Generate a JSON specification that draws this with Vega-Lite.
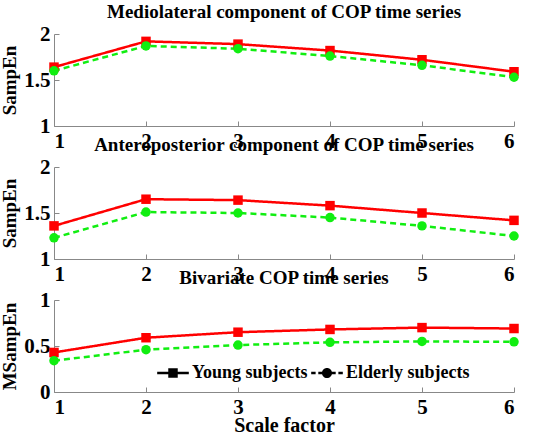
{
  "$schema": "https://vega.github.io/schema/vega-lite/v6.json",
  "background": "white",
  "padding": {"left": 0, "top": 3, "right": 10, "bottom": 0},
  "spacing": -15,
  "config": {
    "view": {"stroke": null},
    "font": "Liberation Serif",
    "axis": {
      "grid": false,
      "domainColor": "#888888",
      "tickColor": "#888888",
      "tickSize": -5,
      "labelPadding": 9,
      "labelFont": "Liberation Serif",
      "labelFontWeight": "bold",
      "labelFontSize": 21,
      "labelColor": "black",
      "titleFont": "Liberation Serif",
      "titleFontWeight": "bold",
      "titleFontSize": 19,
      "titleColor": "black"
    },
    "legend": {
      "title": null, "orient": "none", "legendX": 103, "legendY": 57, "direction": "horizontal", "columns": 2, "columnPadding": 3,
      "symbolSize": 1000, "symbolStrokeWidth": 0, "symbolOpacity": 1,
      "labelFont": "Liberation Serif", "labelFontWeight": "bold", "labelFontSize": 18, "labelColor": "black", "labelOffset": 3, "labelLimit": 300
    },
    "title": {"font": "Liberation Serif", "fontWeight": "bold", "fontSize": 19, "color": "black", "offset": 1}
  },
  "datasets": {
    "cop": [
      {"panel": "ML", "scale": 1, "group": "Young subjects", "value": 1.64},
      {"panel": "ML", "scale": 2, "group": "Young subjects", "value": 1.92},
      {"panel": "ML", "scale": 3, "group": "Young subjects", "value": 1.89},
      {"panel": "ML", "scale": 4, "group": "Young subjects", "value": 1.82},
      {"panel": "ML", "scale": 5, "group": "Young subjects", "value": 1.72},
      {"panel": "ML", "scale": 6, "group": "Young subjects", "value": 1.59},
      {"panel": "ML", "scale": 1, "group": "Elderly subjects", "value": 1.60},
      {"panel": "ML", "scale": 2, "group": "Elderly subjects", "value": 1.87},
      {"panel": "ML", "scale": 3, "group": "Elderly subjects", "value": 1.84},
      {"panel": "ML", "scale": 4, "group": "Elderly subjects", "value": 1.76},
      {"panel": "ML", "scale": 5, "group": "Elderly subjects", "value": 1.66},
      {"panel": "ML", "scale": 6, "group": "Elderly subjects", "value": 1.53},
      {"panel": "AP", "scale": 1, "group": "Young subjects", "value": 1.36},
      {"panel": "AP", "scale": 2, "group": "Young subjects", "value": 1.65},
      {"panel": "AP", "scale": 3, "group": "Young subjects", "value": 1.64},
      {"panel": "AP", "scale": 4, "group": "Young subjects", "value": 1.58},
      {"panel": "AP", "scale": 5, "group": "Young subjects", "value": 1.50},
      {"panel": "AP", "scale": 6, "group": "Young subjects", "value": 1.42},
      {"panel": "AP", "scale": 1, "group": "Elderly subjects", "value": 1.23},
      {"panel": "AP", "scale": 2, "group": "Elderly subjects", "value": 1.51},
      {"panel": "AP", "scale": 3, "group": "Elderly subjects", "value": 1.50},
      {"panel": "AP", "scale": 4, "group": "Elderly subjects", "value": 1.45},
      {"panel": "AP", "scale": 5, "group": "Elderly subjects", "value": 1.36},
      {"panel": "AP", "scale": 6, "group": "Elderly subjects", "value": 1.25},
      {"panel": "BV", "scale": 1, "group": "Young subjects", "value": 0.43},
      {"panel": "BV", "scale": 2, "group": "Young subjects", "value": 0.59},
      {"panel": "BV", "scale": 3, "group": "Young subjects", "value": 0.65},
      {"panel": "BV", "scale": 4, "group": "Young subjects", "value": 0.68},
      {"panel": "BV", "scale": 5, "group": "Young subjects", "value": 0.70},
      {"panel": "BV", "scale": 6, "group": "Young subjects", "value": 0.69},
      {"panel": "BV", "scale": 1, "group": "Elderly subjects", "value": 0.34},
      {"panel": "BV", "scale": 2, "group": "Elderly subjects", "value": 0.46},
      {"panel": "BV", "scale": 3, "group": "Elderly subjects", "value": 0.51},
      {"panel": "BV", "scale": 4, "group": "Elderly subjects", "value": 0.54},
      {"panel": "BV", "scale": 5, "group": "Elderly subjects", "value": 0.55},
      {"panel": "BV", "scale": 6, "group": "Elderly subjects", "value": 0.545}
    ]
  },
  "resolve": {
    "scale": {"color": "independent", "shape": "independent", "strokeDash": "independent", "y": "independent"},
    "legend": {"color": "independent", "shape": "independent", "strokeDash": "independent"}
  },
  "vconcat": [
    {
      "width": 460, "height": 92,
      "title": "Mediolateral component of COP time series",
      "data": {"name": "cop"},
      "transform": [{"filter": "datum.panel === 'ML'"}],
      "encoding": {
        "x": {"field": "scale", "type": "quantitative", "scale": {"domain": [1, 6], "nice": false}, "axis": {"values": [1, 2, 3, 4, 5, 6], "title": null}},
        "y": {"field": "value", "type": "quantitative", "scale": {"domain": [1, 2], "nice": false, "zero": false}, "axis": {"values": [1, 1.5, 2], "format": "~g", "title": "SampEn", "titlePadding": 4}},
        "color": {"field": "group", "type": "nominal", "scale": {"domain": ["Young subjects", "Elderly subjects"], "range": ["#ff0000", "#11ee11"]}, "legend": null}
      },
      "layer": [
        {"mark": {"type": "line", "strokeWidth": 2.5}, "encoding": {"strokeDash": {"field": "group", "type": "nominal", "scale": {"domain": ["Young subjects", "Elderly subjects"], "range": [[1, 0], [6, 4]]}, "legend": null}}},
        {"mark": {"type": "point", "filled": true, "opacity": 1}, "encoding": {"shape": {"field": "group", "type": "nominal", "scale": {"domain": ["Young subjects", "Elderly subjects"], "range": ["square", "circle"]}, "legend": null}, "size": {"value": 90}}}
      ]
    },
    {
      "width": 460, "height": 92,
      "title": "Anteroposterior component of COP time series",
      "data": {"name": "cop"},
      "transform": [{"filter": "datum.panel === 'AP'"}],
      "encoding": {
        "x": {"field": "scale", "type": "quantitative", "scale": {"domain": [1, 6], "nice": false}, "axis": {"values": [1, 2, 3, 4, 5, 6], "title": null}},
        "y": {"field": "value", "type": "quantitative", "scale": {"domain": [1, 2], "nice": false, "zero": false}, "axis": {"values": [1, 1.5, 2], "format": "~g", "title": "SampEn", "titlePadding": 4}},
        "color": {"field": "group", "type": "nominal", "scale": {"domain": ["Young subjects", "Elderly subjects"], "range": ["#ff0000", "#11ee11"]}, "legend": null}
      },
      "layer": [
        {"mark": {"type": "line", "strokeWidth": 2.5}, "encoding": {"strokeDash": {"field": "group", "type": "nominal", "scale": {"domain": ["Young subjects", "Elderly subjects"], "range": [[1, 0], [6, 4]]}, "legend": null}}},
        {"mark": {"type": "point", "filled": true, "opacity": 1}, "encoding": {"shape": {"field": "group", "type": "nominal", "scale": {"domain": ["Young subjects", "Elderly subjects"], "range": ["square", "circle"]}, "legend": null}, "size": {"value": 90}}}
      ]
    },
    {
      "width": 460, "height": 92,
      "title": "Bivariate COP time series",
      "data": {"name": "cop"},
      "transform": [{"filter": "datum.panel === 'BV'"}],
      "encoding": {
        "x": {"field": "scale", "type": "quantitative", "scale": {"domain": [1, 6], "nice": false}, "axis": {"values": [1, 2, 3, 4, 5, 6], "title": "Scale factor", "titlePadding": -2, "titleFontSize": 20}},
        "y": {"field": "value", "type": "quantitative", "scale": {"domain": [0, 1], "nice": false}, "axis": {"values": [0, 0.5, 1], "format": "~g", "title": "MSampEn", "titlePadding": 4}},
        "color": {"field": "group", "type": "nominal", "scale": {"domain": ["Young subjects", "Elderly subjects"], "range": ["#ff0000", "#11ee11"]}, "legend": null}
      },
      "resolve": {"scale": {"shape": "independent", "strokeDash": "independent"}, "legend": {"shape": "independent", "strokeDash": "independent"}},
      "layer": [
        {"mark": {"type": "line", "strokeWidth": 2.5}, "encoding": {
          "strokeDash": {"field": "group", "type": "nominal", "scale": {"domain": ["Young subjects", "Elderly subjects"], "range": [[1, 0], [6, 4]]}, "legend": null}}},
        {"mark": {"type": "point", "filled": true, "opacity": 1}, "encoding": {
          "size": {"value": 90},
          "shape": {"field": "group", "type": "nominal", "scale": {"domain": ["Young subjects", "Elderly subjects"], "range": ["square", "circle"]}, "legend": null}
        }},
        {"mark": {"type": "point", "filled": true, "opacity": 0}, "encoding": {
          "shape": {"field": "group", "type": "nominal", "scale": {"domain": ["Young subjects", "Elderly subjects"], "range": ["M-1,-0.08H1V0.08H-1Z M-0.3,-0.3H0.3V0.3H-0.3Z", "M-1,-0.08H-0.72V0.08H-1Z M-0.55,-0.08H-0.3V0.08H-0.55Z M0.3,-0.08H0.55V0.08H0.3Z M0.72,-0.08H1V0.08H0.72Z M0.32,0A0.32,0.32,0,1,1,-0.32,0A0.32,0.32,0,1,1,0.32,0Z"]}, "legend": {}}
        }}
      ]
    }
  ]
}
